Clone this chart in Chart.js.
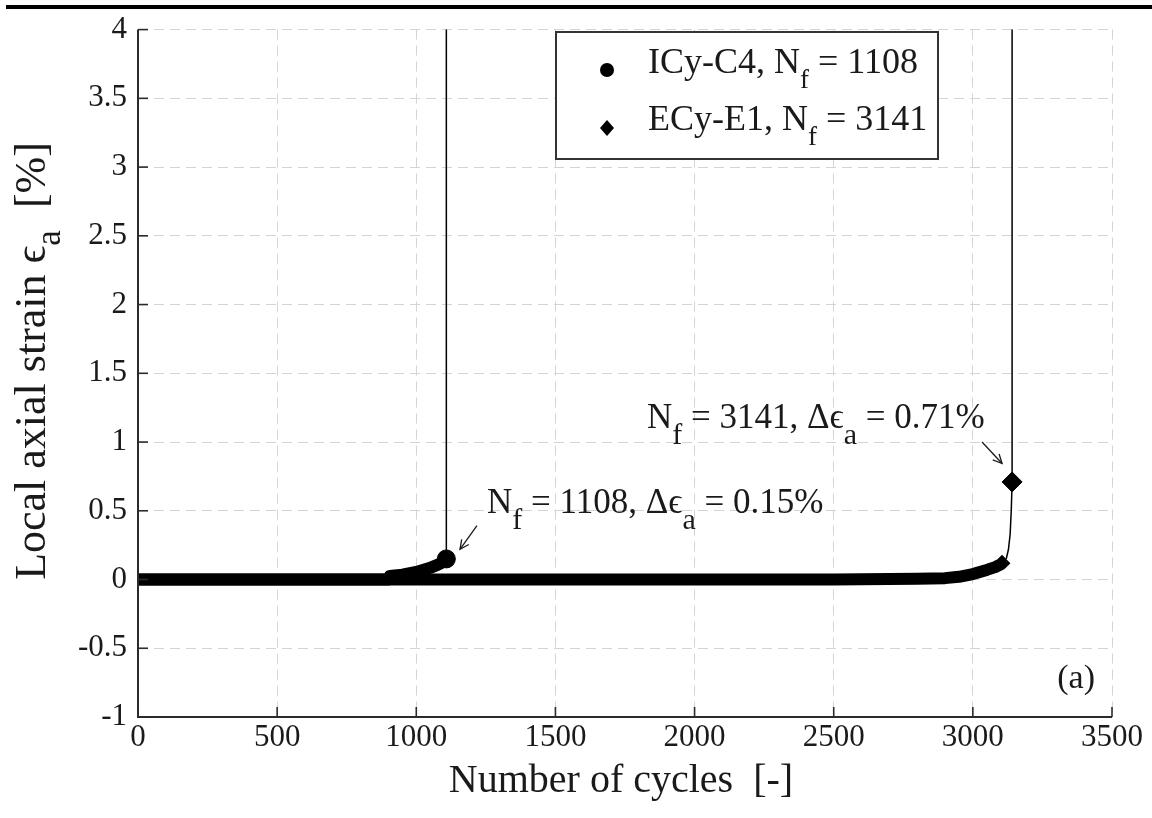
<!DOCTYPE html>
<html><head><meta charset="utf-8">
<script src="https://cdn.jsdelivr.net/npm/chart.js@4.4.0/dist/chart.umd.min.js"></script>
<style>html,body{margin:0;padding:0;background:#fff;} #wrap{position:relative;width:1152px;height:818px;}</style>
</head><body><div id="wrap"><canvas id="c"></canvas></div>
<script>
// ---- data ----
const xTickValues = [0, 500, 1000, 1500, 2000, 2500, 3000, 3500];
const yTickValues = [-1, -0.5, 0, 0.5, 1, 1.5, 2, 2.5, 3, 3.5, 4];

const icyBandCycles = [0, 200, 400, 600, 800, 900, 905, 950, 1000, 1050, 1080, 1100, 1108];
const icyBandStrain = [0, 0, 0, 0, 0, 0, 0.025, 0.035, 0.055, 0.085, 0.11, 0.13, 0.15];
const icyFailCycles = [1108, 1108];
const icyFailStrain = [0.15, 4.6];
const icyNfCycles = [1108];
const icyNfStrain = [0.15];

const ecyBandCycles = [0, 500, 1000, 1500, 2000, 2500, 2800, 2900, 2950, 3000, 3050, 3080, 3100, 3120];
const ecyBandStrain = [0, 0, 0, 0, 0, 0, 0.005, 0.01, 0.02, 0.04, 0.07, 0.09, 0.11, 0.15];
const ecyFailCycles = [3120, 3128, 3134, 3138, 3141, 3141];
const ecyFailStrain = [0.15, 0.22, 0.33, 0.5, 0.71, 4.6];
const ecyNfCycles = [3141];
const ecyNfStrain = [0.71];

const legendLabels = [
  [{t:'ICy-C4, N'},{t:'f',sub:true},{t:' = 1108'}],
  [{t:'ECy-E1, N'},{t:'f',sub:true},{t:' = 3141'}]
];
const note1108 = [{t:'N'},{t:'f',sub:true},{t:' = 1108, \u0394\u03F5'},{t:'a',sub:true},{t:' = 0.15%'}];
const note3141 = [{t:'N'},{t:'f',sub:true},{t:' = 3141, \u0394\u03F5'},{t:'a',sub:true},{t:' = 0.71%'}];
const xTitle = [{t:'Number of cycles  [-]'}];
const yTitle = [{t:'Local axial strain \u03F5'},{t:'a',sub:true},{t:'  [%]'}];
const panelLabel = '(a)';

const zip = (xs, ys) => xs.map((x, i) => ({x: x, y: ys[i]}));
const SERIF = '"Liberation Serif", "DejaVu Serif", serif';
const INK = '#1a1a1a';

function fontStr(size){ return size + 'px ' + SERIF; }
function measureRich(ctx, parts, size, subScale){
  let w = 0;
  for (const p of parts){ ctx.font = fontStr(p.sub ? Math.round(size*subScale) : size); w += ctx.measureText(p.t).width; }
  return w;
}
function drawRich(ctx, x, y, parts, size, subScale, subDy, align){
  const w = measureRich(ctx, parts, size, subScale);
  let cx = align === 'center' ? x - w/2 : (align === 'right' ? x - w : x);
  ctx.textBaseline = 'alphabetic'; ctx.textAlign = 'left'; ctx.fillStyle = INK;
  for (const p of parts){
    const s = p.sub ? Math.round(size*subScale) : size;
    ctx.font = fontStr(s);
    ctx.fillText(p.t, cx, y + (p.sub ? subDy : 0));
    cx += ctx.measureText(p.t).width;
  }
}
function arrow(ctx, x1, y1, x2, y2){
  ctx.save(); ctx.strokeStyle = INK; ctx.lineWidth = 1.3;
  ctx.beginPath(); ctx.moveTo(x1, y1); ctx.lineTo(x2, y2); ctx.stroke();
  const a = Math.atan2(y2 - y1, x2 - x1), L = 10, sp = 0.45;
  ctx.beginPath();
  ctx.moveTo(x2 - L*Math.cos(a - sp), y2 - L*Math.sin(a - sp));
  ctx.lineTo(x2, y2);
  ctx.lineTo(x2 - L*Math.cos(a + sp), y2 - L*Math.sin(a + sp));
  ctx.stroke(); ctx.restore();
}

const decor = {
  id: 'decor',
  afterDraw(chart){
    const ctx = chart.ctx, xs = chart.scales.x, ys = chart.scales.y, ca = chart.chartArea;
    ctx.save();
    // top rule
    ctx.fillStyle = '#000'; ctx.fillRect(6, 5, 1146, 4);
    // axes lines
    ctx.strokeStyle = '#2b2b2b'; ctx.lineWidth = 2;
    ctx.beginPath(); ctx.moveTo(ca.left, ca.top); ctx.lineTo(ca.left, ca.bottom); ctx.lineTo(ca.right, ca.bottom); ctx.stroke();
    // inward ticks
    ctx.lineWidth = 1.6;
    for (const v of yTickValues){ const py = ys.getPixelForValue(v); ctx.beginPath(); ctx.moveTo(ca.left, py); ctx.lineTo(ca.left + 10, py); ctx.stroke(); }
    for (const v of xTickValues){ const px = xs.getPixelForValue(v); ctx.beginPath(); ctx.moveTo(px, ca.bottom); ctx.lineTo(px, ca.bottom - 10); ctx.stroke(); }
    // axis titles
    drawRich(ctx, 621, 792, xTitle, 40, 0.8, 10, 'center');
    ctx.save(); ctx.translate(45, 361); ctx.rotate(-Math.PI/2);
    drawRich(ctx, 0, 0, yTitle, 44, 0.8, 15, 'center');
    ctx.restore();
    // legend box
    const lx = 556, ly = 32, lw = 382, lh = 127;
    ctx.fillStyle = '#fff'; ctx.fillRect(lx, ly, lw, lh);
    ctx.strokeStyle = '#333'; ctx.lineWidth = 2; ctx.strokeRect(lx, ly, lw, lh);
    ctx.fillStyle = '#000';
    ctx.beginPath(); ctx.arc(607, 70, 7, 0, Math.PI*2); ctx.fill();
    ctx.beginPath(); ctx.moveTo(607, 120); ctx.lineTo(614, 128); ctx.lineTo(607, 136); ctx.lineTo(600, 128); ctx.closePath(); ctx.fill();
    drawRich(ctx, 648, 73, legendLabels[0], 36, 0.75, 15, 'left');
    drawRich(ctx, 648, 130, legendLabels[1], 36, 0.75, 15, 'left');
    // annotations
    drawRich(ctx, 487, 513, note1108, 35, 0.85, 16, 'left');
    drawRich(ctx, 647, 428, note3141, 35, 0.85, 16, 'left');
    arrow(ctx, xs.getPixelForValue(1218), ys.getPixelForValue(0.392), xs.getPixelForValue(1157), ys.getPixelForValue(0.22));
    arrow(ctx, xs.getPixelForValue(3033), ys.getPixelForValue(1.0), xs.getPixelForValue(3105), ys.getPixelForValue(0.844));
    // panel label
    ctx.font = fontStr(34); ctx.fillStyle = INK; ctx.textAlign = 'right'; ctx.textBaseline = 'alphabetic';
    ctx.fillText(panelLabel, 1095, 688);
    ctx.restore();
  }
};

const bandStyle = {showLine: true, borderColor: '#000', backgroundColor: '#000', borderWidth: 12, pointRadius: 0, borderCapStyle: 'butt', borderJoinStyle: 'round', tension: 0};
const failStyle = {showLine: true, borderColor: '#000', backgroundColor: '#000', borderWidth: 1.5, pointRadius: 0, tension: 0};

new Chart(document.getElementById('c'), {
  type: 'scatter',
  data: {
    datasets: [
      Object.assign({label: 'ICy-C4 band', data: zip(icyBandCycles, icyBandStrain)}, bandStyle),
      Object.assign({label: 'ICy-C4 failure', data: zip(icyFailCycles, icyFailStrain)}, failStyle),
      {label: 'ICy-C4, Nf = 1108', data: zip(icyNfCycles, icyNfStrain), pointStyle: 'circle', pointRadius: 9, backgroundColor: '#000', borderColor: '#000', showLine: false},
      Object.assign({label: 'ECy-E1 band', data: zip(ecyBandCycles, ecyBandStrain)}, bandStyle),
      Object.assign({label: 'ECy-E1 failure', data: zip(ecyFailCycles, ecyFailStrain)}, failStyle),
      {label: 'ECy-E1, Nf = 3141', data: zip(ecyNfCycles, ecyNfStrain), pointStyle: 'rectRot', pointRadius: 10, backgroundColor: '#000', borderColor: '#000', showLine: false}
    ]
  },
  options: {
    responsive: true, maintainAspectRatio: false, animation: false,
    layout: {padding: {top: 20, right: 40, left: 0, bottom: 0}},
    plugins: {legend: {display: false}, tooltip: {enabled: false}},
    scales: {
      x: {
        type: 'linear', min: 0, max: 3500,
        afterFit: s => { s.height = 101; },
        afterBuildTicks: s => { s.ticks = xTickValues.map(v => ({value: v})); },
        ticks: {font: {family: SERIF, size: 31}, color: INK, padding: 2, maxRotation: 0, callback: v => String(v)},
        grid: {color: '#d4d4d4', lineWidth: 1, drawTicks: false},
        border: {display: false, dash: [10, 6]}
      },
      y: {
        type: 'linear', min: -1, max: 4,
        afterFit: s => { s.width = 138; },
        afterBuildTicks: s => { s.ticks = yTickValues.map(v => ({value: v})); },
        ticks: {font: {family: SERIF, size: 31}, color: INK, padding: 11, callback: v => String(v)},
        grid: {color: '#d4d4d4', lineWidth: 1, drawTicks: false},
        border: {display: false, dash: [10, 6]}
      }
    }
  },
  plugins: [decor]
});
</script></body></html>
